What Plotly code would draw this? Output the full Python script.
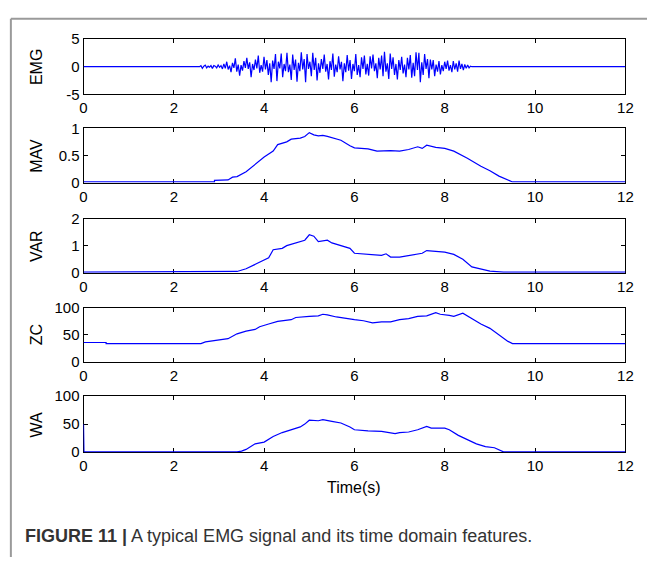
import numpy as np
import plotly.graph_objects as go

W, H = 655, 565

# ---------------- data ----------------
emg_burst = [
    0.2, -0.3, 0.1, 0.3, -0.2, 0.1, -0.1, 0.2, -0.3, 0.2, 0.1, -0.2, 0.3, -0.1, 0.2, -0.4,
    0.5, -0.3, 0.9, -0.5, 0.2, -1.0, 0.7, -0.2, 1.5, -0.9, 0.4, -1.6, 0.3, -0.7, 1.0, -0.2,
    1.6, -0.4, 0.8, -1.9, 0.5, -0.6, 1.3, -0.3, 2.0, -1.1, 0.3, -0.9, 1.8, -0.5, 1.2, -1.5,
    0.6, -2.8, 1.1, -0.4, 2.3, -2.6, 0.9, -0.3, 2.4, -1.9, 0.5, -0.8, 2.5, -1.0, 0.4, -2.4,
    2.2, -0.6, 1.3, -2.7, 0.7, -0.8, 2.6, -0.5, 1.4, -2.8, 2.3, -0.4, 0.9, -1.7, 2.5, -0.6,
    1.6, -2.5, 0.6, -1.1, 1.4, -0.4, 2.2, -0.9, 0.5, -2.3, 1.0, -0.6, 2.4, -1.8, 0.4, -1.0,
    1.9, -0.5, 0.9, -2.6, 0.6, -1.0, 2.1, -0.7, 1.2, -2.2, 0.5, -0.8, 2.3, -1.5, 0.3, -1.9,
    1.7, -0.4, 2.0, -1.4, 0.5, -1.6, 1.9, -0.3, 2.2, -0.8, 0.6, -2.1, 1.6, -0.5, 2.0, -1.7,
    2.7, -0.9, 0.6, -2.2, 2.4, -0.4, 1.7, -1.5, 0.5, -2.3, 1.2, -0.6, 1.8, -1.2, 0.4, -1.9,
    1.6, -0.5, 2.1, -2.0, 0.7, -1.7, 2.6, -0.6, 2.5, -2.8, 0.8, -1.5, 2.3, -0.4, 1.4, -2.1,
    1.3, -0.5, 1.2, -1.7, 0.4, -0.9, 1.0, -1.4, 0.3, -0.8, 0.9, -0.4, 1.1, -0.7, 0.3, -1.0,
    1.0, -0.5, 0.6, -0.9, 1.1, -0.4, 0.5, -0.6, 0.4, -0.3, 0.3, -0.2, 0.1,
]
emg_burst_start, emg_burst_end = 2.60, 8.57
emg_rest_t = [0.0, 2.57, 8.60, 12.0]

mav_t = [0, 2.9, 2.9, 3.2, 3.3, 3.4, 3.6, 3.8, 4.0, 4.2, 4.3, 4.5, 4.6, 4.8, 4.9, 5.0, 5.1, 5.2,
         5.3, 5.4, 5.5, 5.7, 5.9, 6.0, 6.3, 6.5, 6.8, 7.0, 7.2, 7.4, 7.5, 7.6, 7.8, 8.0, 8.2,
         8.5, 8.8, 9.0, 9.2, 9.4, 9.5, 12]
mav_v = [0.012, 0.012, 0.04, 0.05, 0.1, 0.11, 0.2, 0.33, 0.47, 0.58, 0.7, 0.75, 0.8, 0.82,
         0.85, 0.92, 0.88, 0.86, 0.87, 0.85, 0.83, 0.78, 0.68, 0.64, 0.62, 0.58, 0.59, 0.58,
         0.61, 0.66, 0.63, 0.69, 0.65, 0.63, 0.58, 0.45, 0.3, 0.22, 0.12, 0.04, 0.012, 0.012]

var_t = [0, 3.3, 3.4, 3.6, 3.8, 4.0, 4.1, 4.2, 4.4, 4.5, 4.7, 4.9, 5.0, 5.1, 5.2, 5.4, 5.5,
         5.7, 5.9, 6.0, 6.3, 6.6, 6.7, 6.8, 7.0, 7.3, 7.5, 7.6, 7.8, 8.0, 8.2, 8.4, 8.6, 8.8,
         9.0, 9.3, 12]
var_v = [0.025, 0.025, 0.05, 0.15, 0.3, 0.45, 0.55, 0.85, 0.9, 1.0, 1.1, 1.2, 1.4, 1.35, 1.15,
         1.2, 1.1, 1.0, 0.9, 0.72, 0.68, 0.64, 0.7, 0.58, 0.58, 0.66, 0.72, 0.82, 0.78, 0.76,
         0.68, 0.5, 0.22, 0.15, 0.06, 0.025, 0.025]

zc_t = [0, 0.5, 0.5, 2.6, 2.7, 3.0, 3.2, 3.4, 3.6, 3.8, 3.9, 4.1, 4.3, 4.6, 4.7, 5.0, 5.2, 5.3,
        5.4, 5.6, 5.8, 6.0, 6.2, 6.4, 6.6, 6.8, 7.0, 7.2, 7.4, 7.6, 7.8, 7.9, 8.1, 8.2, 8.4,
        8.6, 8.8, 9.0, 9.2, 9.4, 9.5, 12]
zc_v = [36, 36, 34, 34, 37, 40, 43, 52, 57, 60, 65, 70, 75, 78, 82, 84, 85, 88, 87, 83, 80,
        78, 76, 72, 74, 74, 78, 80, 84, 85, 91, 88, 86, 84, 90, 80, 70, 62, 50, 38, 34, 34]

wa_t = [0, 0.01, 3.4, 3.5, 3.6, 3.8, 4.0, 4.2, 4.4, 4.6, 4.8, 4.9, 5.0, 5.2, 5.3, 5.5, 5.7,
        5.9, 6.0, 6.3, 6.6, 6.9, 7.0, 7.2, 7.4, 7.6, 7.7, 8.0, 8.1, 8.3, 8.5, 8.7, 8.9, 9.1,
        9.3, 12]
wa_v = [50, 0.6, 0.6, 2, 5, 15, 18, 28, 35, 40, 45, 50, 57, 56, 58, 55, 52, 45, 40, 38, 37,
        33, 35, 36, 40, 46, 43, 43, 40, 30, 22, 15, 10, 8, 0.6, 0.6]

panel_names = ["EMG", "MAV", "VAR", "ZC", "WA"]
y_ranges = [[-5, 5], [0, 1], [0, 2], [0, 100], [0, 100]]
y_ticks = [[-5, 0, 5], [0, 0.5, 1], [0, 1, 2], [0, 50, 100], [0, 50, 100]]
y_ticktext = [["-5", "0", "5"], ["0", "0.5", "1"], ["0", "1", "2"], ["0", "50", "100"],
              ["0", "50", "100"]]
x_ticks = [0, 2, 4, 6, 8, 10, 12]
x_label = "Time(s)"
caption_bold = "FIGURE 11 |"
caption_text = " A typical EMG signal and its time domain features."

# ---------------- build ----------------
emg_t = np.concatenate([[emg_rest_t[0], emg_rest_t[1]],
                        np.linspace(emg_burst_start, emg_burst_end, len(emg_burst)),
                        [emg_rest_t[2], emg_rest_t[3]]])
emg_v = [0, 0] + emg_burst + [0, 0]

series = [(emg_t, emg_v), (mav_t, mav_v), (var_t, var_v), (zc_t, zc_v), (wa_t, wa_v)]

panels_px = [(31, 88), (123, 179), (216, 272), (308, 364), (399, 457)]
x_left, x_right = 81, 633

FONT = "Liberation Sans, Arial, sans-serif"
TICK = 15
LAB = 16

fig = go.Figure()
layout = dict(
    width=W, height=H, margin=dict(l=0, r=0, t=0, b=0),
    paper_bgcolor="white", plot_bgcolor="white", showlegend=False,
    font=dict(family=FONT, size=TICK, color="black"),
)
annotations = []
for i, ((tx, vy), (top, bot)) in enumerate(zip(series, panels_px)):
    n = "" if i == 0 else str(i + 1)
    fig.add_trace(go.Scatter(x=tx, y=vy, mode="lines",
                             line=dict(color="#0000ff", width=1.2),
                             xaxis="x" + n, yaxis="y" + n, hoverinfo="skip"))
    layout["xaxis" + n] = dict(
        domain=[x_left / W, x_right / W], anchor="y" + n, range=[0, 12],
        tickvals=x_ticks, ticks="inside", ticklen=4, tickcolor="black",
        showline=True, linecolor="black", linewidth=1, mirror="ticks",
        showgrid=False, zeroline=False, tickfont=dict(size=TICK, color="black"),
        layer="below traces",
    )
    layout["yaxis" + n] = dict(
        domain=[1 - bot / H, 1 - top / H], anchor="x" + n, range=y_ranges[i],
        tickvals=y_ticks[i], ticktext=y_ticktext[i], ticks="inside", ticklen=4,
        tickcolor="black", showline=True, linecolor="black", linewidth=1,
        mirror="ticks", showgrid=False, zeroline=False,
        tickfont=dict(size=TICK, color="black"), layer="below traces",
    )
    annotations.append(dict(
        text=panel_names[i], x=33 / W, y=1 - (top + bot) / 2 / H, xref="paper",
        yref="paper", showarrow=False, textangle=-90, xanchor="center",
        yanchor="middle", font=dict(size=LAB, color="black"),
    ))

annotations.append(dict(text=x_label, x=357 / W, y=1 - 493 / H, xref="paper",
                        yref="paper", showarrow=False, xanchor="center",
                        yanchor="middle", font=dict(size=LAB, color="black")))
annotations.append(dict(text="<b>" + caption_bold + "</b>" + caption_text,
                        x=19 / W, y=1 - 543 / H, xref="paper", yref="paper",
                        showarrow=False, xanchor="left", yanchor="middle",
                        font=dict(size=18, color="#333333")))
layout["annotations"] = annotations
layout["shapes"] = [
    dict(type="line", xref="paper", yref="paper", x0=7 / W, x1=1.0, y0=1 - 10 / H,
         y1=1 - 10 / H, line=dict(color="#9a9a9a", width=2)),
    dict(type="line", xref="paper", yref="paper", x0=7 / W, x1=7 / W, y0=0,
         y1=1 - 10 / H, line=dict(color="#9a9a9a", width=2)),
]
fig.update_layout(**layout)
fig.write_html("out.html")
